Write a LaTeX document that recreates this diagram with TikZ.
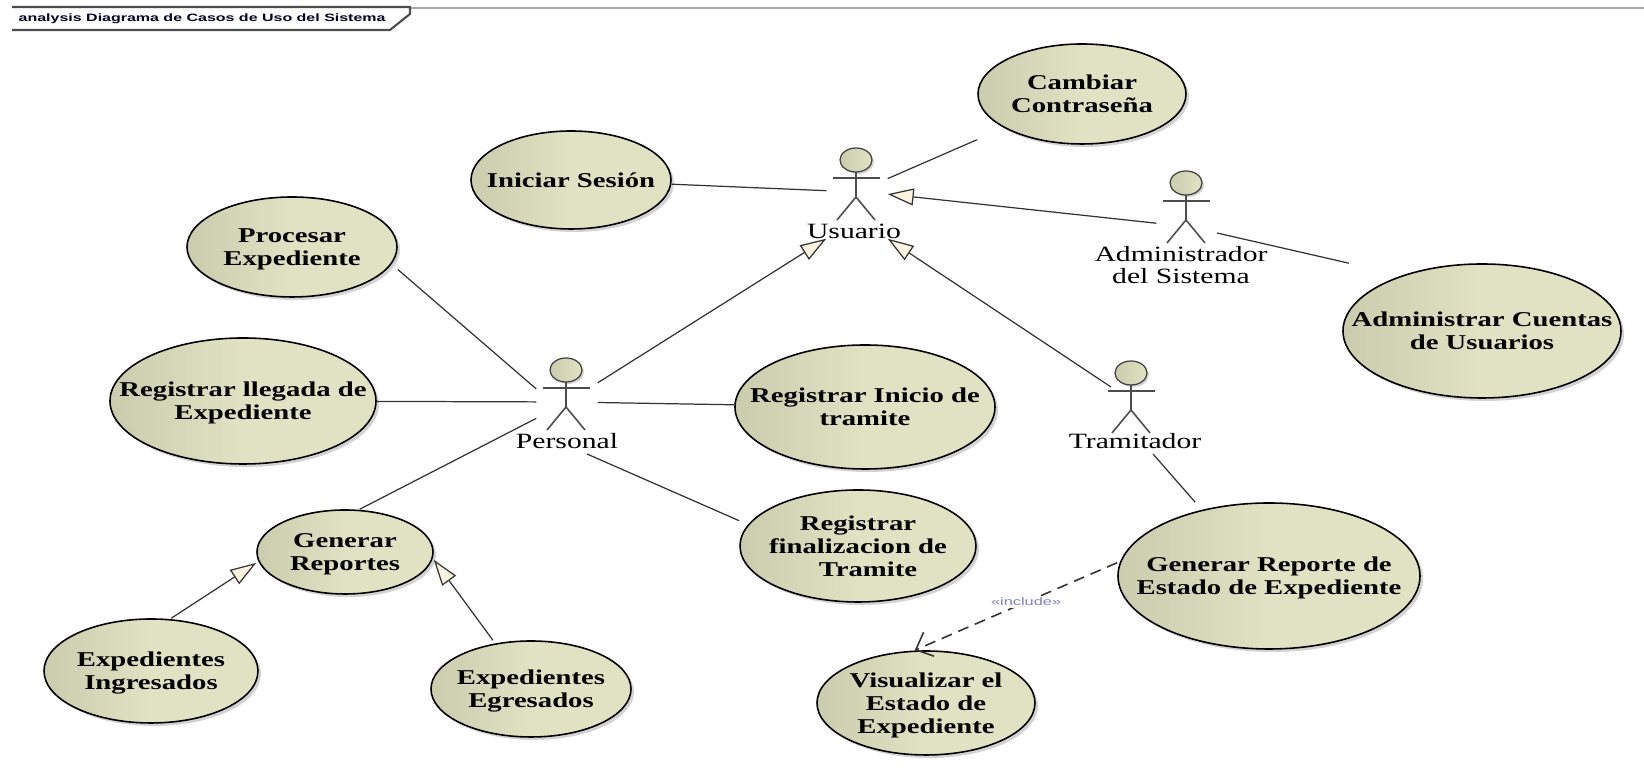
\documentclass[tikz,border=0pt]{standalone}
\usepackage{fontspec}
\usetikzlibrary{arrows.meta,shadows}
\newfontfamily\ucfont{Liberation Serif}[FakeStretch=1.36]
\newfontfamily\framefont{Liberation Sans}[FakeStretch=1.5]
\definecolor{ucdark}{HTML}{CBCBAD}
\definecolor{uclight}{HTML}{E1E1C4}
\definecolor{tipfill}{HTML}{FBF3E0}
\tikzset{
	caseoval/.style={draw=black, line width=0.45pt, left color=ucdark, right color=uclight, middle color=uclight,
		drop shadow={shadow xshift=0.03cm, shadow yshift=-0.03cm, opacity=0.35}},
	casetext/.style={inner sep=0pt, align=center, text depth=0pt, font=\ucfont\bfseries\fontsize{6}{6.5}\selectfont},
	actorbox/.style={minimum width=0.6cm, minimum height=0.92cm, inner sep=0pt},
	actorname/.style={inner sep=0pt, align=center, font=\ucfont\fontsize{6.2}{6.5}\selectfont},
	link/.style={line width=0.35pt, color=black!80},
	inherit/.style={link, -{Triangle[open, length=0.26cm, width=0.17cm, fill=tipfill]}},
	includes/.style={line width=0.45pt, color=black!80, dash pattern=on 0.11cm off 0.07cm, -{Straight Barb[length=0.14cm, width=0.26cm]}}
}
\def\usecase(#1)(#2,#3)(#4,#5)#6{
	\draw[caseoval] (#2, #3) ellipse (#4 and #5);
	\node[casetext, minimum width=#4*0.02cm, minimum height=#5*0.02cm] (#1) at (#2, #3) {#6};
}
\def\actorman(#1)(#2,#3){
	\node[actorbox] (#1) at (#2, #3) {};
	\draw[line width=0.35pt, color=black!75, left color=ucdark, right color=uclight, drop shadow={shadow xshift=0.02cm, shadow yshift=-0.02cm, opacity=0.35}] (#2-1, #3-32) ellipse (16 and 12);
	\draw[line width=0.45pt, color=black!70] (#2-24, #3-14) -- (#2+23, #3-14);
	\draw[line width=0.45pt, color=black!70] (#2-1, #3-20) -- (#2-1, #3+5) -- (#2-20, #3+28);
	\draw[line width=0.45pt, color=black!70] (#2-1, #3+5) -- (#2+18, #3+28);
}
\begin{document}
\begin{tikzpicture}[x=0.01cm, y=-0.01cm]
	%%%%% START %%%%%
	\useasboundingbox (0, 0) rectangle (1644, 777);

	\draw[line width=0.75pt, color=black!35] (410, 8) -- (1644, 8);
	\draw[line width=0.6pt, color=black!70] (12, 7) -- (410, 7) -- (410, 14) -- (390, 30) -- (12, 30);
	\node[inner sep=0pt, anchor=west, text=black!85!blue, font=\framefont\bfseries\fontsize{3.03}{4}\selectfont] (frametitle) at (18, 19) {analysis Diagrama de Casos de Uso del Sistema};

	\usecase(cambiar)(1082,94)(104,50){Cambiar\\Contraseña}
	\usecase(iniciar)(571,180)(100,49){Iniciar Sesión}
	\usecase(procesar)(292,247)(105,50){Procesar\\Expediente}
	\usecase(llegada)(243,401)(133,63){Registrar llegada de\\Expediente}
	\usecase(inicio)(865,407)(130,62){Registrar Inicio de\\tramite}
	\usecase(finalizacion)(858,546)(118,56){Registrar\\finalizacion de\\\hspace*{0.2cm}Tramite}
	\usecase(reportes)(345,552)(88,42){Generar\\Reportes}
	\usecase(ingresados)(151,671)(107,52){Expedientes\\Ingresados}
	\usecase(egresados)(531,689)(100,48){Expedientes\\Egresados}
	\usecase(estado)(1269,576)(151,73){Generar Reporte de\\Estado de Expediente}
	\usecase(visualizar)(926,703)(109,52){Visualizar el\\Estado de\\Expediente}
	\usecase(cuentas)(1482,331)(139,67){Administrar Cuentas\\de Usuarios}

	\actorman(usuario)(857,192)
	\actorman(admin)(1187,215)
	\actorman(personal)(567,402)
	\actorman(tramitador)(1132,405)

	\node[actorname] (usuarioname) at (854, 231) {Usuario};
	\node[actorname] (adminname) at (1181, 265) {Administrador\\del Sistema};
	\node[actorname] (personalname) at (567, 441) {Personal};
	\node[actorname] (tramitadorname) at (1135, 441) {Tramitador};

	\coordinate (adminstart) at (1217, 233);
	\coordinate (personalstart) at (587, 454);
	\coordinate (tramitadorstart) at (1153, 454);
	\coordinate (tramitadorup) at (1111, 387);

	\draw[link] (usuario) -- (cambiar);
	\draw[link] (usuario) -- (iniciar);
	\draw[link] (adminstart) -- (cuentas.153);
	\draw[link] (personal.157) -- (procesar.-12);
	\draw[link] (personal) -- (llegada);
	\draw[link] (personal) -- (inicio);
	\draw[link] (personal.208) -- (reportes.71);
	\draw[link] (personalstart) -- (finalizacion.168);
	\draw[link] (tramitadorstart) -- (estado.135);

	\draw[inherit] (admin.195) -- (usuario.-4);
	\draw[inherit] (personal.32) -- (usuario.south west);
	\draw[inherit] (tramitadorup) -- (usuario.south east);
	\draw[inherit] (ingresados.69) -- (reportes.187);
	\draw[inherit] (egresados.128) -- (reportes.-5);

	\draw[includes] (estado.175) -- node[pos=0.45, fill=white, inner sep=0.5pt, text=black!45!blue!50, font=\framefont\fontsize{3.1}{3.5}\selectfont] (includetag) {«include»} (visualizar.102);
	%%%%% END %%%%%
\end{tikzpicture}
\end{document}
